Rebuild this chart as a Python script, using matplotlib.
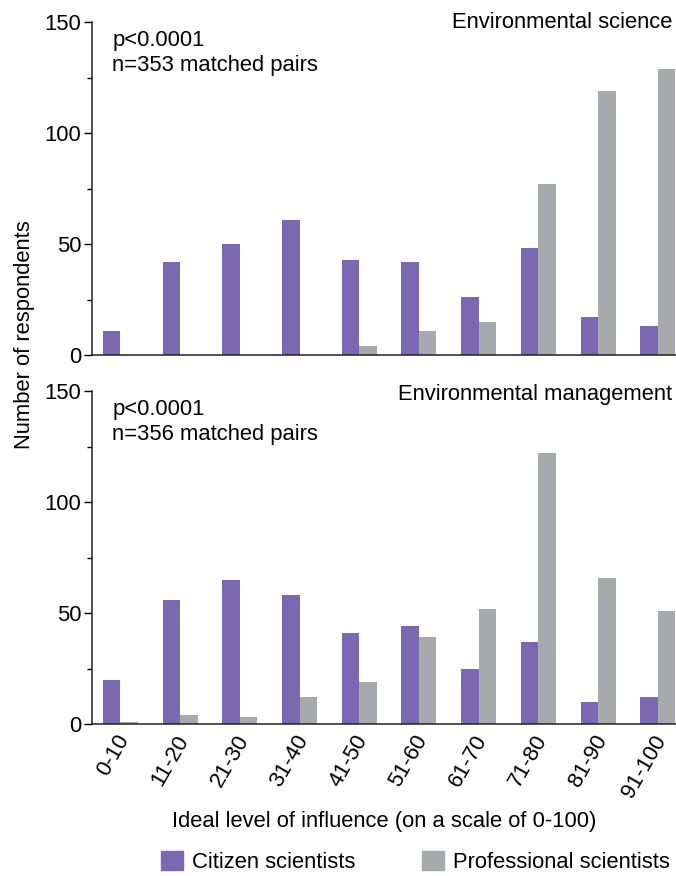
import numpy as np
import matplotlib
matplotlib.use("Agg")
import matplotlib.pyplot as plt
import matplotlib.transforms as mtransforms
from matplotlib.patches import Patch

plt.rcParams['font.family'] = ['Liberation Sans', 'DejaVu Sans']

categories = ['0-10', '11-20', '21-30', '31-40', '41-50', '51-60', '61-70', '71-80', '81-90', '91-100']
science_citizen = [11, 42, 50, 61, 43, 42, 26, 48, 17, 13]
science_prof = [0, 0, 0, 0, 4, 11, 15, 77, 119, 129]
mgmt_citizen = [20, 56, 65, 58, 41, 44, 25, 37, 10, 12]
mgmt_prof = [1, 4, 3, 12, 19, 39, 52, 122, 66, 51]

purple = '#7a68b0'
grey = '#a7a9ac'
fs = 15.8

fig = plt.figure(figsize=(6.76, 8.76), dpi=100)
ax1 = fig.add_axes([0.1368, 0.5947, 0.8632, 0.3801])
ax2 = fig.add_axes([0.1368, 0.1735, 0.8632, 0.3801])

x = np.arange(len(categories))
w = 0.293

panels = [(ax1, science_citizen, science_prof, 'Environmental science', 'n=353 matched pairs', 1.0),
          (ax2, mgmt_citizen, mgmt_prof, 'Environmental management', 'n=356 matched pairs', 0.99)]

for ax, cit, pro, title, ntext, ty in panels:
    ax.bar(x - w / 2, cit, w, color=purple)
    ax.bar(x + w / 2, pro, w, color=grey)
    ax.set_xlim(-0.469, 9.305)
    ax.set_ylim(0, 150)
    ax.set_yticks([0, 50, 100, 150])
    ax.set_yticks([25, 75, 125], minor=True)
    ax.tick_params(axis='y', which='major', length=6, width=1, labelsize=fs, pad=2)
    ax.tick_params(axis='y', which='minor', length=3.5, width=1)
    ax.tick_params(axis='x', length=0)
    for s in ['top', 'right']:
        ax.spines[s].set_visible(False)
    for s in ['left', 'bottom']:
        ax.spines[s].set_linewidth(1.1)
        ax.spines[s].set_color('#222222')
    ax.text(0.993, ty, title, transform=ax.transAxes, ha='right', va='center', fontsize=fs)
    ax.text(0.034, 0.945, 'p<0.0001', transform=ax.transAxes, ha='left', va='center', fontsize=fs)
    ax.text(0.034, 0.87, ntext, transform=ax.transAxes, ha='left', va='center', fontsize=fs)

ax1.set_xticks(x)
ax1.set_xticklabels([])
ax2.set_xticks(x)
ax2.set_xticklabels(categories, rotation=60, ha='right', va='center',
                    rotation_mode='anchor', fontsize=fs)
ax2.tick_params(axis='x', pad=9)
shift = mtransforms.ScaledTranslation(4 / 100, 0, fig.dpi_scale_trans)
for lab in ax2.get_xticklabels():
    lab.set_transform(lab.get_transform() + shift)

fig.text(25 / 676, 1 - 335 / 876, 'Number of respondents', rotation=90,
         ha='center', va='center', fontsize=fs)
fig.text(384 / 676, 1 - 821 / 876, 'Ideal level of influence (on a scale of 0-100)',
         ha='center', va='center', fontsize=fs)

handles = [Patch(color=purple, label='Citizen scientists'),
           Patch(color=grey, label='Professional scientists')]
fig.legend(handles=handles, loc='center', bbox_to_anchor=(415.5 / 676, 1 - 862 / 876),
           ncol=2, frameon=False, fontsize=fs, handlelength=1.0, handleheight=1.0,
           columnspacing=3.0, handletextpad=0.45)

fig.savefig('out.png', dpi=100)
